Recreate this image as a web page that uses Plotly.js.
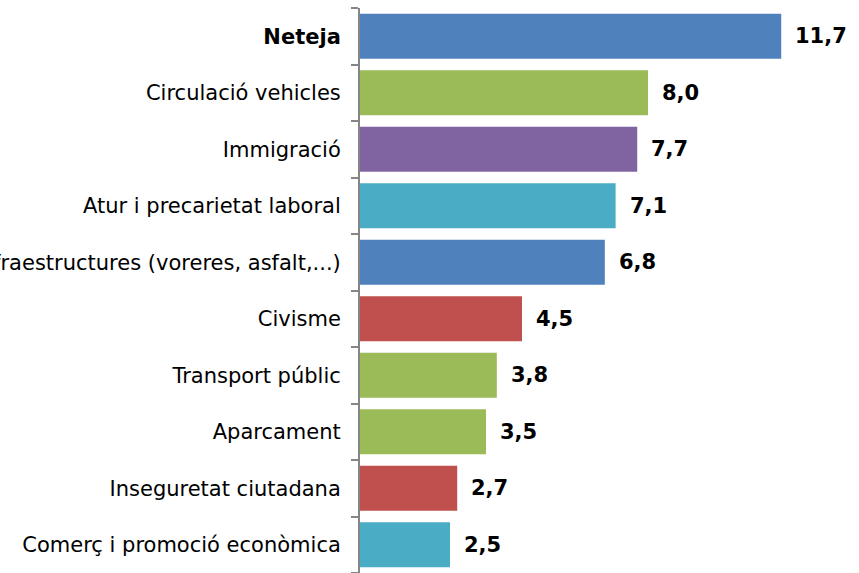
<!DOCTYPE html>
<html>
<head>
<meta charset="utf-8">
<script src="https://cdn.plot.ly/plotly-3.0.1.min.js"></script>
<style>
  html, body { margin: 0; padding: 0; background: #fff; }
  #chart { width: 859px; height: 573px; }
</style>
</head>
<body>
<div id="chart"></div>
<script>
// Problems, top to bottom
const categories = [
    'Neteja',
    'Circulació vehicles',
    'Immigració',
    'Atur i precarietat laboral',
    'Infraestructures (voreres, asfalt,...)',
    'Civisme',
    'Transport públic',
    'Aparcament',
    'Inseguretat ciutadana',
    'Comerç i promoció econòmica'
];
const values = [11.7, 8.0, 7.7, 7.1, 6.8, 4.5, 3.8, 3.5, 2.7, 2.5];
const valueLabels = ['11,7', '8,0', '7,7', '7,1', '6,8', '4,5', '3,8', '3,5', '2,7', '2,5'];
const barColors = ['#4F81BD', '#9BBB59', '#8064A2', '#4BACC6', '#4F81BD',
                   '#C0504D', '#9BBB59', '#9BBB59', '#C0504D', '#4BACC6'];

const tickText = categories.map(c => c === 'Neteja' ? '<b>' + c + '</b>' : c);

const data = [{
    type: 'bar',
    orientation: 'h',
    x: values,
    y: categories,
    marker: { color: barColors },
    hoverinfo: 'none'
}];

// value labels to the right of each bar
const annotations = values.map((v, i) => ({
    x: v,
    y: categories[i],
    xref: 'x',
    yref: 'y',
    text: '<b>' + valueLabels[i] + '</b>',
    showarrow: false,
    xanchor: 'left',
    xshift: 12,
    yshift: 0,
    font: { family: 'DejaVu Sans', size: 21, color: '#000' }
}));

const layout = {
    width: 859,
    height: 573,
    margin: { l: 360, r: 0, t: 8, b: 0 },
    paper_bgcolor: '#fff',
    plot_bgcolor: '#fff',
    showlegend: false,
    bargap: 0.2,
    font: { family: 'DejaVu Sans', size: 21, color: '#000' },
    xaxis: {
        range: [0, 13.86],
        showgrid: false,
        zeroline: false,
        showline: false,
        showticklabels: false,
        ticks: ''
    },
    yaxis: {
        type: 'category',
        categoryorder: 'array',
        categoryarray: categories,
        autorange: 'reversed',
        tickvals: categories,
        ticktext: tickText,
        showline: true,
        linecolor: '#868686',
        linewidth: 2,
        ticks: 'outside',
        tickson: 'boundaries',
        ticklen: 7,
        tickwidth: 2,
        tickcolor: '#868686',
        ticklabelstandoff: 13,
        showgrid: false,
        zeroline: false
    },
    annotations: annotations
};

Plotly.newPlot('chart', data, layout, { displayModeBar: false, staticPlot: true });
</script>
</body>
</html>
